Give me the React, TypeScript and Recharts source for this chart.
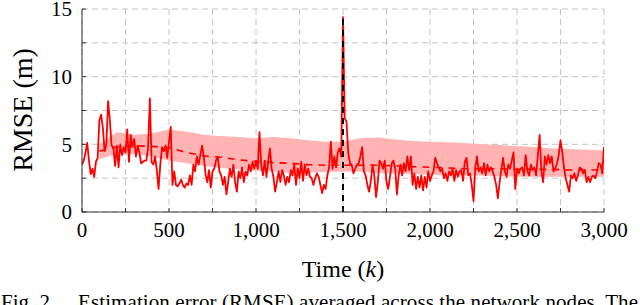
import React from 'react';
import { ComposedChart, Line, Area, XAxis, YAxis, CartesianGrid, ReferenceLine } from 'recharts';

// RMSE per step, sampled every 10 time steps (k = 0 .. 3000)
const rmse: number[] = [
  3.5, 3.8, 4.4, 5.1, 3.8, 2.8, 3.2, 2.6, 3.7, 4.0,
  6.8, 7.2, 6.2, 4.5, 5.0, 8.2, 6.8, 4.9, 4.8, 3.4,
  4.9, 3.3, 5.0, 4.2, 4.8, 4.4, 6.1, 3.7, 5.7, 4.8,
  5.4, 4.1, 4.9, 4.4, 3.6, 3.7, 3.8, 3.8, 4.8, 8.4,
  3.7, 3.5, 4.1, 3.1, 1.7, 3.5, 4.8, 4.5, 4.9, 4.0,
  5.2, 6.3, 2.0, 3.0, 2.0, 1.9, 2.1, 2.4, 2.0, 1.8,
  2.1, 2.0, 2.7, 2.0, 3.5, 3.0, 4.1, 3.5, 4.2, 4.9,
  4.1, 2.8, 2.2, 3.1, 1.8, 3.0, 3.2, 3.8, 4.1, 3.0,
  2.7, 2.0, 2.6, 1.3, 2.2, 3.2, 2.6, 3.5, 2.2, 1.5,
  3.0, 2.5, 3.3, 2.2, 3.0, 2.7, 3.5, 3.0, 3.7, 3.2,
  3.8, 3.2, 5.9, 3.5, 2.7, 3.8, 2.6, 3.7, 4.7, 3.2,
  2.6, 1.5, 2.2, 3.0, 2.2, 3.1, 2.7, 2.0, 2.6, 2.2,
  3.1, 2.7, 3.5, 2.0, 3.2, 2.5, 3.7, 2.3, 3.5, 2.7,
  3.2, 2.6, 2.5, 2.0, 2.5, 2.85, 2.6, 2.0, 1.4, 2.0,
  1.7, 2.7, 3.3, 5.2, 3.2, 4.1, 3.3, 4.4, 4.7, 4.1,
  14.4, 6.9, 6.7, 4.4, 3.6, 3.5, 2.85, 3.2, 3.5, 3.6,
  4.1, 4.8, 3.0, 2.7, 2.0, 1.5, 2.3, 3.5, 2.7, 1.1,
  2.2, 3.8, 3.6, 3.2, 3.8, 2.2, 1.7, 2.6, 3.6, 3.8,
  3.2, 1.3, 2.7, 3.5, 2.7, 3.6, 3.0, 4.1, 3.1, 4.1,
  2.0, 2.85, 1.7, 2.6, 1.8, 2.7, 1.6, 2.6, 1.8, 3.0,
  2.3, 2.7, 3.0, 4.0, 3.6, 3.3, 3.0, 3.2, 2.5, 2.85,
  2.3, 3.0, 2.7, 3.2, 2.3, 3.1, 2.6, 3.0, 3.1, 2.3,
  3.7, 4.0, 2.7, 2.85, 2.0, 0.8, 3.2, 4.1, 3.0, 3.3,
  2.85, 3.6, 2.7, 3.5, 3.0, 3.3, 3.0, 2.6, 2.0, 1.0,
  2.2, 3.1, 4.0, 3.0, 2.6, 3.5, 3.2, 3.8, 4.4, 1.7,
  3.2, 2.85, 3.2, 3.3, 2.7, 4.2, 3.0, 2.7, 3.5, 3.1,
  3.3, 2.7, 4.2, 5.7, 3.0, 2.2, 4.1, 3.5, 4.2, 3.6,
  4.1, 3.0, 3.2, 3.6, 4.2, 5.3, 4.4, 3.3, 2.5, 2.0,
  1.5, 2.7, 2.5, 2.85, 2.3, 2.7, 3.3, 3.2, 2.85, 3.1,
  2.2, 2.6, 2.2, 2.6, 2.7, 2.5, 3.0, 3.6, 3.5, 2.85,
  4.8,
];
const rmseStep = 10;

// bound / mean curves, every 100 steps from k = 100
const bandK = [
  100, 200, 300, 400, 500, 600, 700, 800, 900, 1000,
  1100, 1200, 1300, 1400, 1500, 1600, 1700, 1800, 1900, 2000,
  2100, 2200, 2300, 2400, 2500, 2600, 2700, 2800, 2900, 3000,
];
const bandUpper = [
  5.0, 5.9, 5.7, 5.8, 6.1, 5.95, 5.7, 5.6, 5.55, 5.45,
  5.55, 5.45, 5.3, 5.2, 5.2, 5.45, 5.5, 5.35, 5.25, 5.2,
  5.15, 5.1, 5.0, 4.95, 4.85, 4.8, 4.7, 4.65, 4.6, 4.55,
];
const bandLower = [
  3.9, 4.3, 4.3, 4.1, 3.8, 3.6, 3.4, 3.25, 3.15, 3.05,
  3.0, 2.9, 2.9, 2.95, 3.0, 3.0, 2.9, 2.85, 2.8, 2.75,
  2.7, 2.7, 2.7, 2.65, 2.6, 2.6, 2.6, 2.6, 2.6, 2.6,
];
const meanVals = [
  4.5, 4.8, 4.9, 4.85, 4.75, 4.4, 4.15, 4.05, 3.85, 3.75,
  3.65, 3.6, 3.5, 3.45, 3.45, 3.45, 3.45, 3.4, 3.35, 3.3,
  3.25, 3.2, 3.2, 3.2, 3.15, 3.15, 3.15, 3.1, 3.1, 3.1,
];

const xTicks = [0, 250, 500, 750, 1000, 1250, 1500, 1750, 2000, 2250, 2500, 2750, 3000];
const yTicks = [0, 2.5, 5, 7.5, 10, 12.5, 15];
const eventK = 1500;

const rmseData = rmse.map((v, i) => ({ k: i * rmseStep, v }));
const bandData = bandK.map((k, i) => ({ k, band: [bandLower[i], bandUpper[i]], mean: meanVals[i] }));
const eventPeak = rmse[eventK / rmseStep];

const FONT = 'Liberation Serif';
const FRAME = '#333';

const XTick = (props: any) => {
  const { x, y, payload } = props;
  const v = payload.value as number;
  return (
    <g>
      <line x1={x} x2={x} y1={y - 10} y2={y - 14} stroke={FRAME} />
      {v % 500 === 0 && (
        <text x={x} y={y} dy="0.71em" textAnchor="middle" style={{ fontFamily: FONT }} fontSize={21} fill="#000">
          {v.toLocaleString('en-US')}
        </text>
      )}
    </g>
  );
};

const YTick = (props: any) => {
  const { x, y, payload } = props;
  const v = payload.value as number;
  return (
    <g>
      <line x1={x + 10} x2={x + 14} y1={y} y2={y} stroke={FRAME} />
      {v % 5 === 0 && (
        <text x={x} y={y} dy="0.355em" textAnchor="end" style={{ fontFamily: FONT }} fontSize={21} fill="#000">
          {v}
        </text>
      )}
    </g>
  );
};

export default function App() {
  return (
    <div style={{ position: 'absolute', left: 0, top: 0, width: 640, height: 305, overflow: 'hidden', background: '#fff', fontFamily: FONT }}>
      <ComposedChart width={640} height={250} margin={{ top: 9, right: 36, bottom: 0, left: 0 }}>
        <CartesianGrid stroke="#c4c4c4" strokeDasharray="6 4" />
        <XAxis
          type="number"
          dataKey="k"
          domain={[0, 3000]}
          ticks={xTicks}
          allowDataOverflow
          height={38}
          tickSize={0}
          tickMargin={10}
          tick={<XTick />}
          tickLine={false}
          axisLine={{ stroke: FRAME }}
          interval={0}
        />
        <XAxis
          xAxisId="top"
          orientation="top"
          type="number"
          domain={[0, 3000]}
          ticks={xTicks}
          height={0}
          mirror
          tick={false}
          tickSize={4}
          tickLine={{ stroke: FRAME }}
          axisLine={{ stroke: FRAME }}
          interval={0}
        />
        <YAxis
          type="number"
          domain={[0, 15]}
          ticks={yTicks}
          allowDataOverflow
          width={82}
          tickSize={0}
          tickMargin={10}
          tick={<YTick />}
          tickLine={false}
          axisLine={{ stroke: FRAME }}
          interval={0}
        />
        <YAxis
          yAxisId="right"
          orientation="right"
          type="number"
          domain={[0, 15]}
          ticks={yTicks}
          width={0}
          mirror
          tick={false}
          tickSize={4}
          tickLine={{ stroke: FRAME }}
          axisLine={{ stroke: FRAME }}
          interval={0}
        />
        <Area
          data={bandData}
          dataKey="band"
          type="linear"
          stroke="none"
          fill="#ffb3b3"
          fillOpacity={1}
          isAnimationActive={false}
          dot={false}
          activeDot={false}
        />
        <Line
          data={bandData}
          dataKey="mean"
          type="linear"
          stroke="#ff0000"
          strokeWidth={1.6}
          strokeDasharray="7 6"
          dot={false}
          activeDot={false}
          isAnimationActive={false}
        />
        <Line
          data={rmseData}
          dataKey="v"
          type="linear"
          stroke="#ff0000"
          strokeWidth={1.8}
          strokeLinejoin="round"
          dot={false}
          activeDot={false}
          isAnimationActive={false}
        />
        <ReferenceLine
          segment={[{ x: eventK, y: 0 }, { x: eventK, y: eventPeak }]}
          stroke="#000"
          strokeWidth={2}
          strokeDasharray="6 5"
        />
      </ComposedChart>
      <svg width={640} height={305} style={{ position: 'absolute', left: 0, top: 0, pointerEvents: 'none', fontFamily: FONT }}>
        <text x={22} y={110} transform="rotate(-90 22 110)" textAnchor="middle" dominantBaseline="central" fontSize={28} fill="#000">
          RMSE (m)
        </text>
        <text x={343} y={277} textAnchor="middle" fontSize={24} fill="#000">
          Time (<tspan fontStyle="italic">k</tspan>)
        </text>
        <text x={1} y={309} fontSize={21} fill="#000">Fig. 2.</text>
        <text x={78} y={309} fontSize={21} fill="#000" textLength={560} lengthAdjust="spacing">
          Estimation error (RMSE) averaged across the network nodes. The
        </text>
      </svg>
    </div>
  );
}
